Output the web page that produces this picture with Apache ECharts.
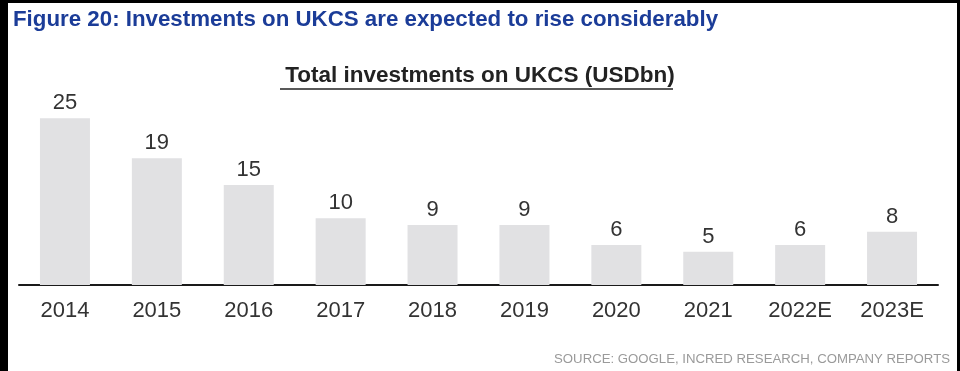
<!DOCTYPE html>
<html>
<head>
<meta charset="utf-8">
<script src="https://cdn.jsdelivr.net/npm/echarts@6/dist/echarts.min.js"></script>
<style>
  html, body { margin: 0; padding: 0; background: #fff; }
  #chart { width: 960px; height: 371px; }
</style>
</head>
<body>
<div id="chart"></div>
<script>
// Total investments on the UK Continental Shelf, USD billions
const years = ['2014', '2015', '2016', '2017', '2018', '2019', '2020', '2021', '2022E', '2023E'];
const investments = [25, 19, 15, 10, 9, 9, 6, 5, 6, 8];

const figureTitle = 'Figure 20: Investments on UKCS are expected to rise considerably';
const chartTitle = 'Total investments on UKCS (USDbn)';
const sourceNote = 'SOURCE: GOOGLE, INCRED RESEARCH, COMPANY REPORTS';

const FONT = 'Liberation Sans, Arial, sans-serif';

const chart = echarts.init(document.getElementById('chart'), null, { renderer: 'canvas' });

chart.setOption({
  animation: false,
  backgroundColor: '#ffffff',
  textStyle: { fontFamily: FONT },
  title: [
    {
      text: figureTitle,
      left: 13, top: 9, padding: 0,
      textStyle: { color: '#1b3c98', fontSize: 22.3, fontWeight: 'bold', fontFamily: FONT }
    },
    {
      text: chartTitle,
      left: 'center', top: 64, padding: 0,
      textStyle: { color: '#222222', fontSize: 22.5, fontWeight: 'bold', fontFamily: FONT }
    },
    {
      text: sourceNote,
      right: 10, top: 353, padding: 0,
      textStyle: { color: '#9a9a9a', fontSize: 13.2, fontWeight: 'normal', fontFamily: FONT }
    }
  ],
  grid: { left: 19, right: 22, top: 85, bottom: 86 },
  xAxis: {
    type: 'category',
    data: years,
    axisLine: { lineStyle: { color: '#1a1a1a', width: 2 } },
    axisTick: { show: false },
    axisLabel: { color: '#333333', fontSize: 22, margin: 15 }
  },
  yAxis: {
    type: 'value',
    min: 0, max: 30,
    show: false,
    splitLine: { show: false }
  },
  series: [{
    type: 'bar',
    data: investments,
    barWidth: 50,
    itemStyle: { color: '#e1e1e3' },
    label: {
      show: true,
      position: 'top',
      distance: 4,
      color: '#333333',
      fontSize: 22
    }
  }],
  graphic: [
    // page frame: thick left rule, thin top and right rules
    { type: 'rect', left: 0, top: 0, shape: { width: 8, height: 371 }, style: { fill: '#000' } },
    { type: 'rect', left: 0, top: 0, shape: { width: 960, height: 3 }, style: { fill: '#000' } },
    { type: 'rect', left: 957, top: 0, shape: { width: 3, height: 371 }, style: { fill: '#000' } },
    // underline beneath the chart heading
    { type: 'line', shape: { x1: 280, y1: 89, x2: 673, y2: 89 }, style: { stroke: '#222222', lineWidth: 1.5 } }
  ]
});
</script>
</body>
</html>
